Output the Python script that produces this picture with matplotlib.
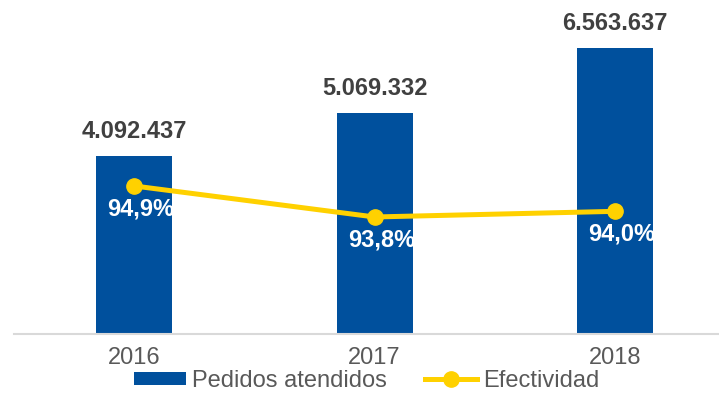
import matplotlib
matplotlib.use("Agg")
import matplotlib.pyplot as plt
import numpy as np

plt.rcParams['font.family'] = ['Liberation Sans', 'DejaVu Sans']

anios = ["2016", "2017", "2018"]
pedidos = [4092437, 5069332, 6563637]
efectividad = [94.9, 93.8, 94.0]

azul = "#00509D"
amarillo = "#FFD100"
gris = "#595959"

fig = plt.figure(figsize=(7.19, 3.93), dpi=100)
# ejes en pixeles: x 14..718, y (desde abajo) 59..383
ax = fig.add_axes([14 / 719, 59 / 393, 704 / 719, 324 / 393])
x = np.arange(len(anios))

barras = ax.bar(x, pedidos, width=0.316, color=azul, label="Pedidos atendidos", zorder=2)
ax.set_xlim(-0.499, 2.428)
ax.set_ylim(0, 7435600)
ax.set_yticks([])
ax.set_xticks(x)
ax.set_xticklabels(anios, fontsize=17, color=gris)
ax.tick_params(axis="x", length=0, pad=9)
for lado in ["top", "left", "right"]:
    ax.spines[lado].set_visible(False)
ax.spines["bottom"].set_color("#D9D9D9")
ax.spines["bottom"].set_linewidth(1.5)

# etiquetas de miles con punto
for xi, v in zip(x, pedidos):
    txt = f"{v:,}".replace(",", ".")
    ax.annotate(txt, (xi, v), xytext=(0, 13), textcoords="offset points",
                ha="center", va="baseline", fontsize=17, fontweight="bold",
                color="#404040")

ax2 = ax.twinx()
ax2.set_ylim(89.65, 101.14)
ax2.axis("off")
linea, = ax2.plot(x, efectividad, color=amarillo, lw=3.6, marker="o",
                  markersize=11, label="Efectividad", zorder=3)
for xi, v in zip(x, efectividad):
    txt = f"{v:.1f}%".replace(".", ",")
    ax2.annotate(txt, (xi, v), xytext=(5, -21), textcoords="offset points",
                 ha="center", va="baseline", fontsize=17, fontweight="bold",
                 color="white")

fig.legend(handles=[barras, linea], loc="center", bbox_to_anchor=(0.51, 0.031),
           ncol=2, frameon=False, fontsize=17, labelcolor=gris,
           handlelength=2.2, handleheight=0.5, handletextpad=0.25,
           columnspacing=1.6, borderpad=0)

fig.savefig("out.png", dpi=100)
